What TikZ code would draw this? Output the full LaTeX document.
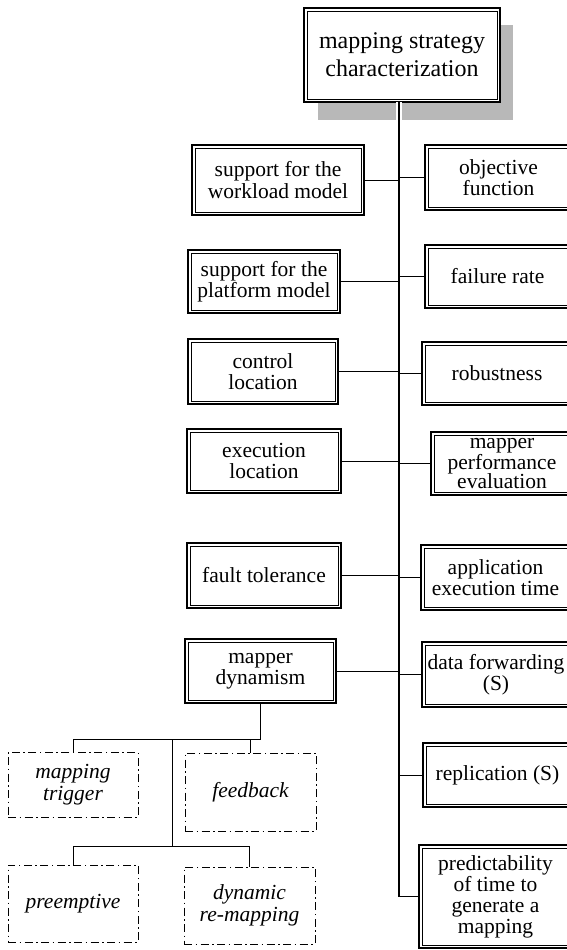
\documentclass[tikz,border=0pt]{standalone}
\usepackage{fontspec}
\setmainfont{Liberation Serif}
\definecolor{shadowgray}{gray}{0.72}
\begin{document}
\begin{tikzpicture}[x=1pt,y=-1pt,
  dbox/.style={draw, line width=1.5pt, fill=white, inner sep=0pt, outer sep=0pt,
    align=center, font=\fontsize{21.5pt}{21.5pt}\selectfont},
  dashbox/.style={draw, line width=0.9pt, dash pattern=on 8pt off 3.5pt on 1.5pt off 3.5pt,
    inner sep=0pt, outer sep=0pt, align=center,
    font=\fontsize{21.5pt}{22pt}\selectfont\itshape},
  innerline/.style={line width=0.6pt},
  link/.style={line width=1pt},
  spine/.style={line width=1.2pt}]
\path[use as bounding box, clip] (0,0) rectangle (567,950);

% drop shadow of the root box
\fill[shadowgray] (318,25) rectangle (513,120);

% root
\node[dbox, minimum width=196pt, minimum height=94pt,
      font=\fontsize{24pt}{28pt}\selectfont] (top) at (402,55)
  {mapping strategy\\characterization};

% left column
\node[dbox, minimum width=172pt, minimum height=70pt] (L1) at (278,180)
  {support for the\\workload model};
\node[dbox, minimum width=152pt, minimum height=63pt] (L2) at (264,281.5)
  {support for the\\platform model};
\node[dbox, minimum width=150pt, minimum height=65pt] (L3) at (263,371.5)
  {control\\location};
\node[dbox, minimum width=154pt, minimum height=64pt] (L4) at (264,461)
  {execution\\location};
\node[dbox, minimum width=154pt, minimum height=65pt] (L5) at (264,575.5)
  {fault tolerance};
\node[dbox, minimum width=151pt, minimum height=64pt] (md) at (260.5,671)
  {mapper\\dynamism};

% right column
\node[dbox, minimum width=147pt, minimum height=65pt] (R1) at (498.5,177.5)
  {objective\\function};
\node[dbox, minimum width=145pt, minimum height=63pt] (R2) at (497.5,276.5)
  {failure rate};
\node[dbox, minimum width=150pt, minimum height=63pt] (R3) at (497,373.5)
  {robustness};
\node[dbox, minimum width=142pt, minimum height=63pt,
      font=\fontsize{21.5pt}{19.5pt}\selectfont] (R4) at (502,463.5)
  {mapper\\performance\\evaluation};
\node[dbox, minimum width=149pt, minimum height=65pt] (R5) at (495.5,577.5)
  {application\\execution time};
\node[dbox, minimum width=148pt, minimum height=65pt] (R6) at (496,674.5)
  {data forwarding\\(S)};
\node[dbox, minimum width=149pt, minimum height=64pt] (R7) at (497.5,775)
  {replication (S)};
\node[dbox, minimum width=153pt, minimum height=103pt,
      font=\fontsize{21.5pt}{21pt}\selectfont] (R8) at (495.5,896.5)
  {predictability\\of time to\\generate a\\mapping};

% inner lines of the double frames
\foreach \n in {top,L1,L2,L3,L4,L5,md,R1,R2,R3,R4,R5,R6,R7,R8}
  \draw[innerline] ([shift={(3pt,3pt)}]\n.south west)
    rectangle ([shift={(-3pt,-3pt)}]\n.north east);

% sub-aspects of mapper dynamism
\node[dashbox, minimum width=130pt, minimum height=65pt] (mt) at (73,784.5)
  {mapping\\trigger};
\node[dashbox, minimum width=131pt, minimum height=78pt] (fb) at (250.5,792)
  {feedback};
\node[dashbox, minimum width=130pt, minimum height=77pt] (pre) at (73,903.5)
  {preemptive};
\node[dashbox, minimum width=131pt, minimum height=77pt] (dyn) at (249.5,905.5)
  {dynamic\\re-mapping};

% main spine
\coordinate (sp) at (399,0);
\draw[white, line width=6pt] (top.south -| sp) -- ++(0,20);
\draw[spine] (top.south -| sp) -- (R8.west -| sp) -- (R8.west);

% branches to the spine
\foreach \n in {L1,L2,L3,L4,L5,md}
  \draw[link] (\n.east) -- (\n.east -| sp);
\foreach \n in {R1,R2,R3,R4,R5,R6,R7}
  \draw[link] (\n.west) -- (\n.west -| sp);

% tree below mapper dynamism
\coordinate (j1) at (260.5,739);
\coordinate (j2) at (172,739);
\coordinate (j3) at (172,846);
\draw[link] (md.south) -- (j1) -| (mt.north);
\draw[link] (j1) -| (fb.north);
\draw[link] (j2) -- (j3);
\draw[link] (j3) -| (pre.north);
\draw[link] (j3) -| (dyn.north);
\end{tikzpicture}
\end{document}
